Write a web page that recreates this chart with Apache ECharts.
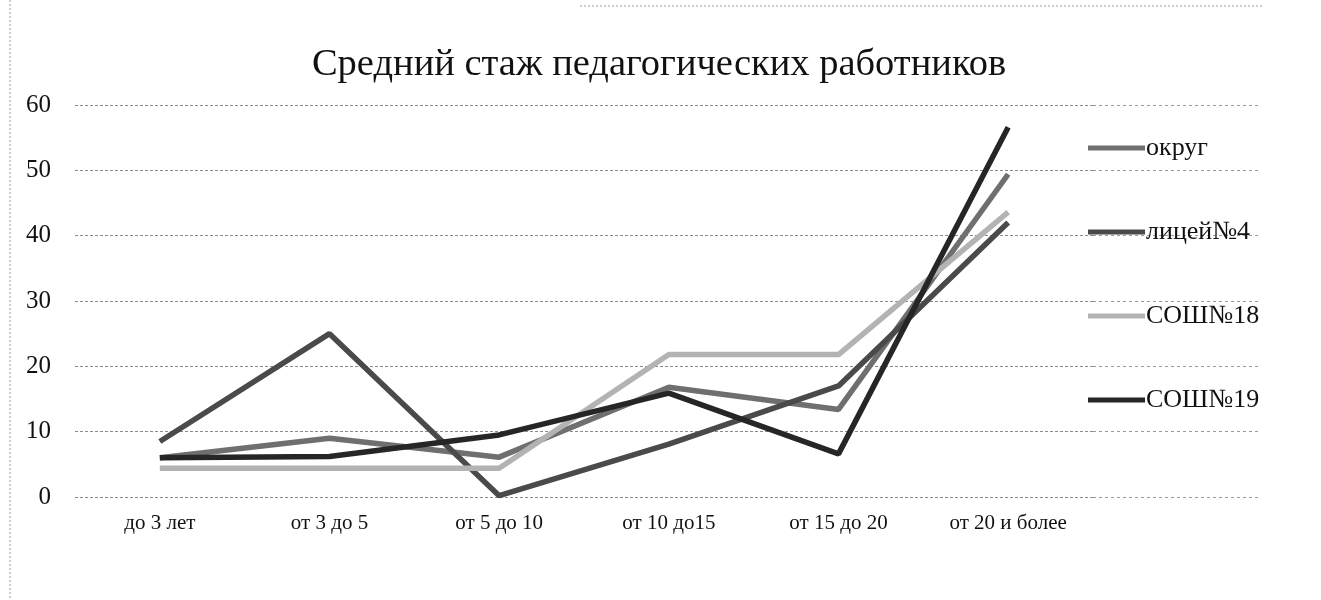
<!DOCTYPE html>
<html>
<head>
<meta charset="utf-8">
<script src="https://cdn.jsdelivr.net/npm/echarts@6/dist/echarts.min.js"></script>
<style>html,body{margin:0;padding:0;background:#fff;}#c{width:1321px;height:600px;}</style>
</head>
<body>
<div id="c"></div>
<script>
const categories = ['до 3 лет', 'от 3 до 5', 'от 5 до 10', 'от 10 до15', 'от 15 до 20', 'от 20 и более'];
const seriesNames = ['округ', 'лицей№4', 'СОШ№18', 'СОШ№19'];
const okrug = [6, 9, 6.1, 16.8, 13.4, 49.4];
const licey4 = [8.5, 25, 0.2, 8.1, 17, 42];
const sosh18 = [4.4, 4.4, 4.4, 21.8, 21.8, 43.6];
const sosh19 = [6, 6.2, 9.5, 15.9, 6.6, 56.6];
const yTicks = [0, 10, 20, 30, 40, 50, 60];

const values = [okrug, licey4, sosh18, sosh19];
const colors = ['#6f6f6f', '#4a4a4a', '#b3b3b3', '#262626'];
const serif = '"Liberation Serif", "DejaVu Serif", serif';

const chart = echarts.init(document.getElementById('c'), null, {renderer: 'canvas'});
chart.setOption({
  animation: false,
  backgroundColor: '#fff',
  title: {
    text: 'Средний стаж педагогических работников',
    left: 654, top: 40, textAlign: 'center',
    textStyle: {fontFamily: serif, fontSize: 38.5, fontWeight: 'normal', color: '#111'}
  },
  legend: {
    orient: 'vertical',
    left: 1083, top: 130,
    itemGap: 58,
    itemWidth: 57, itemHeight: 5,
    icon: 'rect',
    textStyle: {fontFamily: serif, fontSize: 26, color: '#111', padding: [0, 0, 0, -4]},
    data: seriesNames
  },
  grid: [
    {left: 75, right: 228, top: 105, bottom: 103},
    {left: 1093, right: 61, top: 105, bottom: 103}
  ],
  xAxis: [
    {
      type: 'category', data: categories, boundaryGap: true, gridIndex: 0,
      axisLine: {show: false}, axisTick: {show: false},
      axisLabel: {fontFamily: serif, fontSize: 21, color: '#111', margin: 16}
    },
    {type: 'category', data: [''], gridIndex: 1, show: false}
  ],
  yAxis: [
    {
      type: 'value', min: yTicks[0], max: yTicks[yTicks.length - 1], interval: 10, gridIndex: 0,
      axisLine: {show: false}, axisTick: {show: false},
      axisLabel: {fontFamily: serif, fontSize: 25, color: '#111', margin: 24},
      splitLine: {lineStyle: {color: '#8a8a8a', type: [3, 2], width: 1}}
    },
    {
      type: 'value', min: 0, max: 60, interval: 10, gridIndex: 1,
      axisLine: {show: false}, axisTick: {show: false}, axisLabel: {show: false},
      splitLine: {lineStyle: {color: '#9a9a9a', type: [3, 3], width: 1}}
    }
  ],
  series: seriesNames.map((n, i) => ({
    name: n, type: 'line', data: values[i],
    xAxisIndex: 0, yAxisIndex: 0,
    symbol: 'none',
    lineStyle: {width: 5.5, color: colors[i]},
    itemStyle: {color: colors[i]}
  })),
  graphic: [
    {type: 'line', shape: {x1: 10, y1: 0, x2: 10, y2: 600}, style: {stroke: '#999', lineWidth: 1, lineDash: [2, 2]}},
    {type: 'line', shape: {x1: 580, y1: 6, x2: 1262, y2: 6}, style: {stroke: '#999', lineWidth: 1, lineDash: [2, 2]}}
  ]
});
</script>
</body>
</html>
